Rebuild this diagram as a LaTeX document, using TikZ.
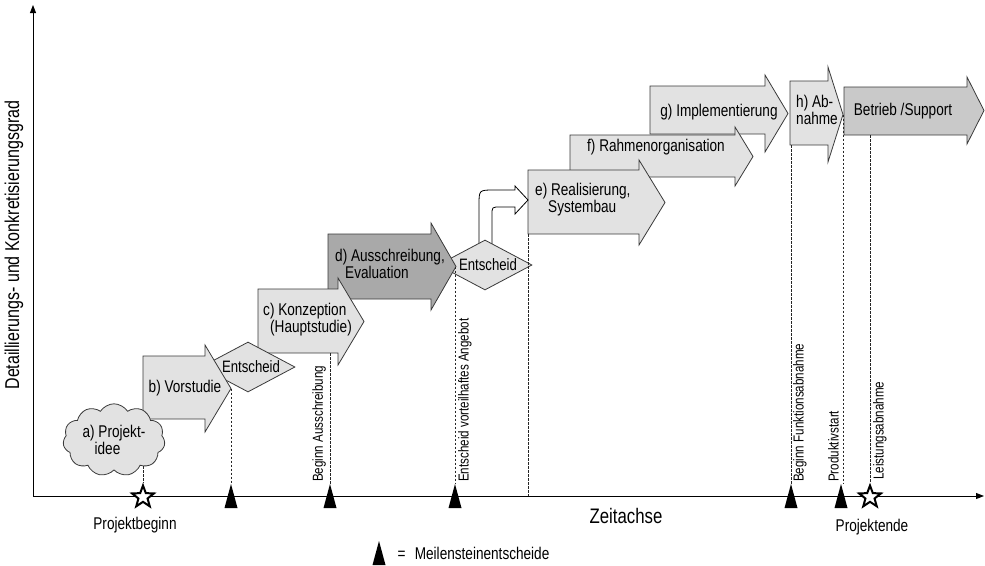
\documentclass[tikz,border=0pt]{standalone}
\usepackage{fontspec}
\setmainfont[FakeStretch=0.8]{Liberation Sans}
\usetikzlibrary{shapes.geometric,shapes.symbols,arrows.meta}
\definecolor{phaselight}{HTML}{E2E2E2}
\definecolor{phasemid}{HTML}{C9C9C9}
\definecolor{phasedark}{HTML}{A9A9A9}
\definecolor{edgegray}{HTML}{3A3A3A}
\newcommand\phase[9]{%
\draw[phaseline,fill=#2] (#3,#4) -- (#6,#4) -- (#6,#7) -- (#9,{(#7+#8)/2}) -- (#6,#8) -- (#6,#5) -- (#3,#5) -- cycle;
\coordinate (#1-tip) at (#9,{(#7+#8)/2});
\coordinate (#1-sw) at (#3,#5);}
\begin{document}
\begin{tikzpicture}[x=1pt,y=-1pt,
 phaseline/.style={draw=edgegray,line width=0.8pt},
 phasetext/.style={font=\fontsize{17}{15.5}\selectfont,inner sep=0pt,align=left},
 decision/.style={diamond,shape aspect=1.88,draw=edgegray,fill=phaselight,line width=0.8pt,minimum width=94pt,minimum height=50pt,inner sep=0pt,font=\fontsize{16.5}{16}\selectfont},
 endstar/.style={star,star points=5,star point ratio=2.4,draw=black,line width=2pt,fill=white,minimum size=23pt,inner sep=0pt},
 guide/.style={draw=black!85,line width=0.6pt,dash pattern=on 2.5pt off 1.5pt},
 vtext/.style={rotate=90,font=\fontsize{14.5}{14}\selectfont,inner sep=1pt},
 axistext/.style={font=\fontsize{17}{16}\selectfont},
 milestone/.pic={\fill (0,-12) -- (6.5,12) -- (-6.5,12) -- cycle; \coordinate (-top) at (0,-12);}]
\useasboundingbox (0,0) rectangle (985,565);
\coordinate (origin) at (33,496);
\coordinate (xend) at (984,496);
\coordinate (yend) at (33,5);
\draw[line width=0.9pt,-{Triangle[length=8pt,width=6pt]}] (origin) to (xend);
\draw[line width=0.9pt,-{Triangle[length=8pt,width=6pt]}] (origin) to (yend);

\phase{betrieb}{phasemid}{844}{87}{135}{967}{77}{144}{984}
\phase{abnahme}{phaselight}{790}{81}{145}{828}{67}{162}{843}
\phase{impl}{phaselight}{650}{86}{134}{765}{75}{152}{788}
\phase{rahmen}{phaselight}{570}{135}{177}{735}{127}{186}{753}
\phase{real}{phaselight}{528}{170}{234}{639}{160}{245}{665}
\draw[phaseline,draw=black,fill=white] (479,252) -- (479,205) .. controls (479,190) .. (494,190) -- (515,190) -- (515,186) -- (528,200) -- (515,214) -- (515,207) -- (500,207) .. controls (492,207) .. (492,215) -- (492,252) -- cycle;
\node[name=ent2,decision] at (485,265) {\hspace*{6pt}Entscheid};
\phase{ausschr}{phasedark}{328}{234}{299}{431}{223}{310}{456}
\phase{konz}{phaselight}{258}{289}{353}{338}{278}{365}{364}
\node[name=ent1,decision] at (248,367) {\hspace*{6pt}Entscheid};
\phase{vor}{phaselight}{143}{356}{419}{205}{345}{432}{231}
\node[name=idee,cloud,cloud puffs=11,cloud puff arc=115,aspect=1.45,draw=edgegray,fill=phaselight,line width=0.8pt,minimum width=102pt,minimum height=70pt,inner sep=0pt,align=left,font=\fontsize{17}{15.5}\selectfont] at (114,440) {a) Projekt-\\\hspace*{12pt}idee};

\node[name=tvor,phasetext] at (185,388) {b) Vorstudie};
\node[name=tkonz,phasetext,anchor=west] at (263,320) {c) Konzeption\\\hspace*{7pt}(Hauptstudie)};
\node[name=tausschr,phasetext,anchor=west] at (335,264) {d) Ausschreibung,\\\hspace*{10pt}Evaluation};
\node[name=treal,phasetext,anchor=west] at (535,200) {e) Realisierung,\\\hspace*{13pt}Systembau};
\node[name=trahmen,phasetext] at (656,147) {f) Rahmenorganisation};
\node[name=timpl,phasetext] at (719,112) {g) Implementierung};
\node[name=tabnahme,phasetext,anchor=west] at (796,110) {h) Ab-\\nahme};
\node[name=tbetrieb,phasetext] at (903,111) {Betrieb /Support};

\node[name=s1,endstar] at (143,497) {};
\node[name=s2,endstar] at (870,497) {};
\pic (m1) at (231,496) {milestone};
\pic (m2) at (330,496) {milestone};
\pic (m3) at (455,496) {milestone};
\pic (m4) at (791,496) {milestone};
\pic (m5) at (841,496) {milestone};

\draw[guide] (s1.north |- idee.-45) to (s1.north);
\draw[guide] (vor-tip) to (vor-tip |- m1-top);
\draw[guide] (m2-top |- konz-sw) to (m2-top);
\draw[guide] (m3-top |- ausschr-tip) to (m3-top);
\draw[guide] (real-sw) to (real-sw |- origin);
\draw[guide] (m4-top |- abnahme-sw) to (m4-top);
\draw[guide] (abnahme-tip) to (abnahme-tip |- m5-top);
\draw[guide] (s2.north |- betrieb-sw) to (s2.north);

\node[name=lausschr,vtext,anchor=south west] at (327,483) {Beginn Ausschreibung};
\node[name=langebot,vtext,anchor=north west] at (457,483) {Entscheid vorteilhaftes Angebot};
\node[name=lfunktion,vtext,anchor=north west] at (792,483) {Beginn Funktionsabnahme};
\node[name=lprod,vtext,anchor=south west] at (840,483) {Produktivstart};
\node[name=lleistung,vtext,anchor=north west] at (872,481) {Leistungsabnahme};

\node[name=ylab,rotate=90,font=\fontsize{20}{20}\selectfont] at (14,245) {Detaillierungs- und Konkretisierungsgrad};
\node[name=xlab,font=\fontsize{21}{20}\selectfont] at (626,516) {Zeitachse};
\node[name=beginn,axistext] at (135,525) {Projektbeginn};
\node[name=ende,axistext] at (872,527) {Projektende};
\pic (key) at (379,553) {milestone};
\node[name=keytext,axistext,anchor=west] at (394,553) {=\hspace{0.55em}Meilensteinentscheide};
\end{tikzpicture}
\end{document}
